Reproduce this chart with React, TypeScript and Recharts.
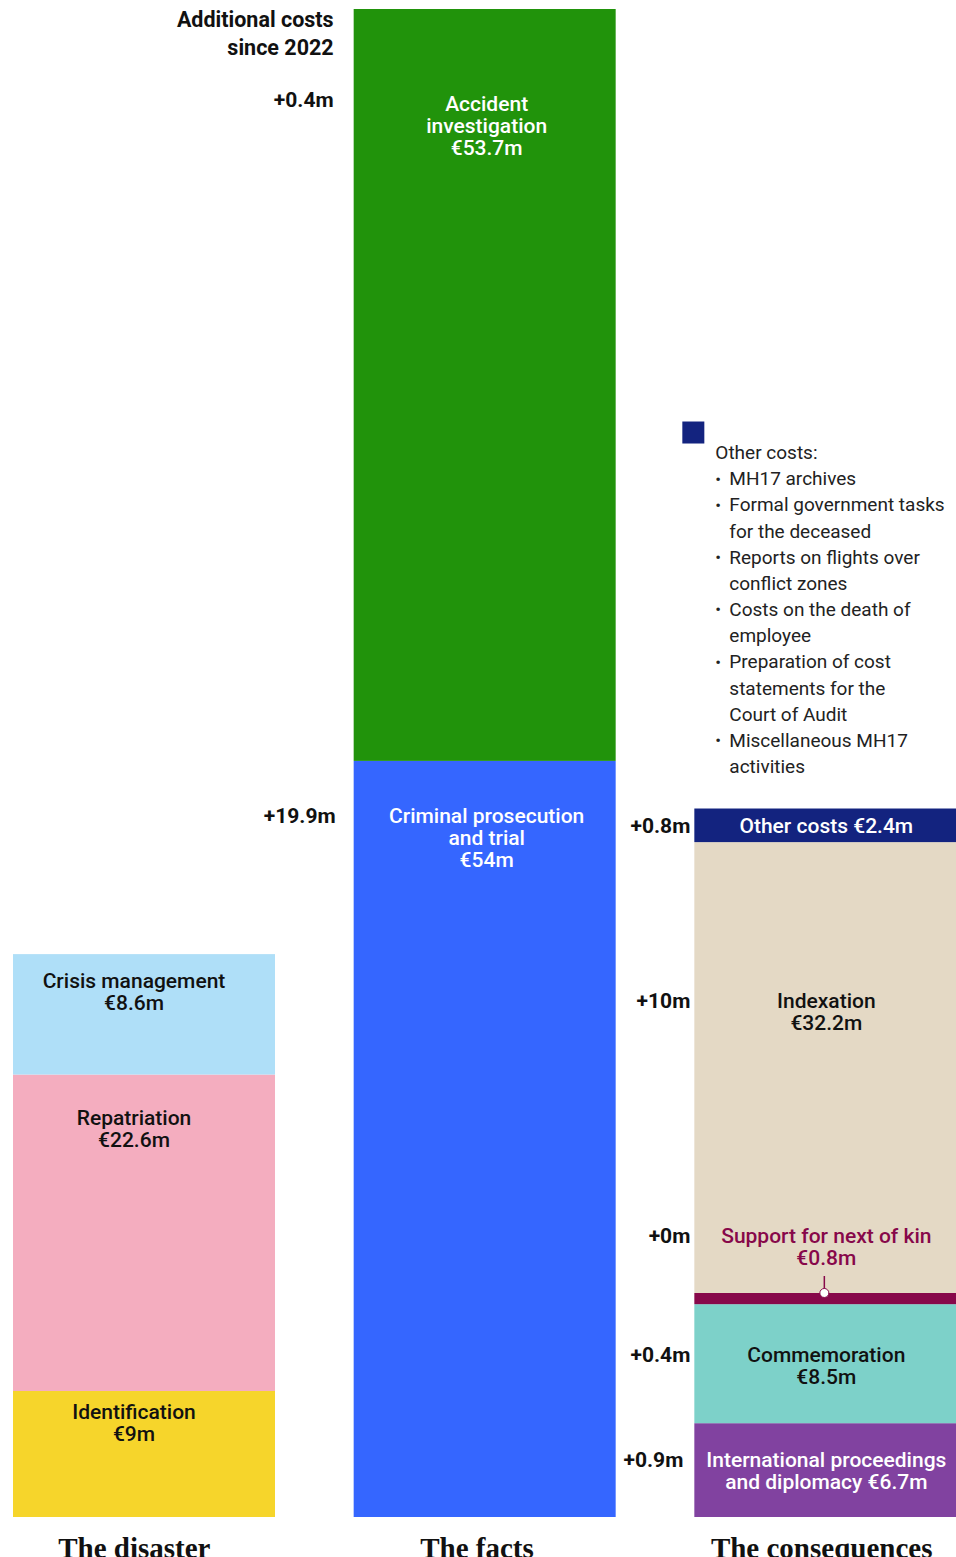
import React from 'react'
import { BarChart, Bar, XAxis, YAxis } from 'recharts'

const categories = ['The disaster', 'The facts', 'The consequences']

// each list is stacked from the bottom up, '{v}' is replaced by the amount
const disasterLabels = ['Identification\n{v}', 'Repatriation\n{v}', 'Crisis management\n{v}']
const disasterCosts = [9, 22.6, 8.6]
const disasterAdditional: (number | null)[] = [null, null, null]

const factsLabels = ['Criminal prosecution\nand trial\n{v}', 'Accident\ninvestigation\n{v}']
const factsCosts = [54, 53.7]
const factsAdditional: (number | null)[] = [19.9, 0.4]

const consequencesLabels = [
  'International proceedings\nand diplomacy {v}',
  'Commemoration\n{v}',
  'Support for next of kin\n{v}',
  'Indexation\n{v}',
  'Other costs {v}',
]
const consequencesCosts = [6.7, 8.5, 0.8, 32.2, 2.4]
const consequencesAdditional: (number | null)[] = [0.9, 0.4, 0, 10, 0.8]

const otherCostsTitle = 'Other costs:'
const otherCostsItems = [
  ['MH17 archives'],
  ['Formal government tasks', 'for the deceased'],
  ['Reports on flights over', 'conflict zones'],
  ['Costs on the death of', 'employee'],
  ['Preparation of cost', 'statements for the', 'Court of Audit'],
  ['Miscellaneous MH17', 'activities'],
]
const additionalTitle = ['Additional costs', 'since 2022']

const labelsByCategory = [disasterLabels, factsLabels, consequencesLabels]
const costsByCategory = [disasterCosts, factsCosts, consequencesCosts]
const additionalByCategory = [disasterAdditional, factsAdditional, consequencesAdditional]

// styles
const COLORS = [
  ['#f6d52b', '#f4adbf', '#afdff8'],
  ['#3566ff', '#21930b'],
  ['#8142a0', '#7dd1c9', '#87084a', '#e4d9c5', '#13237f'],
]
const TEXT_COLORS = [
  ['#111', '#111', '#111'],
  ['#fff', '#fff'],
  ['#fff', '#111', '#87084a', '#111', '#fff'],
]
// distance from segment top to first label line (negative = label above segment)
const LABEL_OFFSETS = [
  [21, 43, 27],
  [55, 95],
  [36, 50, -57, 159, 17],
]
const LABEL_DX = [-10, 2, 1]
const TICK_DX = [-10, -8, -4]
const EXTRA_GAP = [
  [0, 0, 0],
  [18, 20],
  [11, 4, 4, 4, 4],
]
const EXTRA_SHIFT = [
  [0, 0, 0],
  [0, -4],
  [0, 0, 0, 0, 0],
]

const FONT = 'Roboto, "Noto Sans", sans-serif'
const LINE = 22

const seriesKeys = ['s0', 's1', 's2', 's3', 's4']

const data = categories.map((name, c) => {
  const row: Record<string, any> = { name }
  seriesKeys.forEach((k, i) => {
    row[k] = costsByCategory[c][i] ?? 0
  })
  return row
})

const yMax = Math.max(...costsByCategory.map((arr) => arr.reduce((a, b) => a + b, 0)))

const fmt = (v: number) => `€${v}m`

function labelLines(c: number, i: number) {
  return labelsByCategory[c][i].replace('{v}', fmt(costsByCategory[c][i])).split('\n')
}

function SegmentText({ c, i, cx, top }: { c: number; i: number; cx: number; top: number }) {
  const lines = labelLines(c, i)
  return (
    <text
      fontFamily={FONT}
      fontSize={21}
      fontWeight={500}
      fill={TEXT_COLORS[c][i]}
      textAnchor="middle"
    >
      {lines.map((l, n) => (
        <tspan key={n} x={cx} y={top + n * LINE} dy="0.35em">
          {l}
        </tspan>
      ))}
    </text>
  )
}

function renderSegment(props: any, i: number) {
  const { x, y, width, height, index } = props
  const c = index as number
  const value = costsByCategory[c][i]
  if (value == null || value <= 0) return <g />
  const cx = x + width / 2
  const tx = cx + LABEL_DX[c]
  const offset = LABEL_OFFSETS[c][i]
  const extra = additionalByCategory[c][i]
  const below = i > 0 ? LABEL_OFFSETS[c][i - 1] : 0
  const bottom = y + height

  return (
    <g>
      <rect x={x} y={y} width={width} height={height} fill={COLORS[c][i]} />
      {offset >= 0 && <SegmentText c={c} i={i} cx={tx} top={y + offset} />}
      {extra != null && (
        <text
          x={x - EXTRA_GAP[c][i]}
          y={y + offset + EXTRA_SHIFT[c][i]}
          dy="0.35em"
          textAnchor="end"
          fontFamily={FONT}
          fontSize={21}
          fontWeight={700}
          fill="#111"
        >
          {`+${extra}m`}
        </text>
      )}
      {/* label of the thin segment below, drawn here so it sits on top */}
      {i > 0 && below < 0 && (
        <g>
          <SegmentText c={c} i={i - 1} cx={tx} top={bottom + below} />
          <line x1={cx - 1} x2={cx - 1} y1={bottom - 17} y2={bottom} stroke={COLORS[c][i - 1]} strokeWidth={1.5} />
          <circle cx={cx - 1} cy={bottom} r={4.5} fill="#fff" stroke={COLORS[c][i - 1]} strokeWidth={1} />
        </g>
      )}
      {c === 1 && i === factsCosts.length - 1 && (
        <text x={x - 20} fontFamily={FONT} fontSize={21.5} fontWeight={700} fill="#111" textAnchor="end">
          {additionalTitle.map((l, n) => (
            <tspan key={n} x={x - 20} y={y + 10 + n * 28} dy="0.35em">
              {l}
            </tspan>
          ))}
        </text>
      )}
      {c === 2 && i === consequencesCosts.length - 1 && (
        <g>
          <rect x={x - 12} y={y - 387} width={22} height={22} fill={COLORS[c][i]} />
          <text fontFamily={FONT} fontSize={19} fill="#222">
            <tspan x={x + 21} y={y - 356} dy="0.35em">
              {otherCostsTitle}
            </tspan>
            {(() => {
              let n = 1
              const out: React.ReactNode[] = []
              otherCostsItems.forEach((item, k) => {
                item.forEach((l, j) => {
                  const ly = y - 356 + n * 26.15
                  if (j === 0) {
                    out.push(
                      <tspan key={`b${k}`} x={x + 21} y={ly} dy="0.35em" fontSize={17}>
                        •
                      </tspan>
                    )
                  }
                  out.push(
                    <tspan key={`t${k}-${j}`} x={x + 35} y={ly} dy="0.35em">
                      {l}
                    </tspan>
                  )
                  n++
                })
              })
              return out
            })()}
          </text>
        </g>
      )}
    </g>
  )
}

const CategoryTick = ({ x, y, payload, index }: any) => (
  <text
    x={x + TICK_DX[index ?? 0]}
    y={y + 41}
    textAnchor="middle"
    fontFamily='"Liberation Serif", serif'
    fontWeight={700}
    fontSize={29}
    fill="#111"
  >
    {payload.value}
  </text>
)

export default function App() {
  return (
    <div style={{ width: 956, height: 1557, overflow: 'hidden', background: '#fff' }}>
      <style>{'body{margin:0}'}</style>
      <div style={{ marginLeft: -26 }}>
        <BarChart width={1022} height={1577} data={data} margin={{ top: 9, right: 0, bottom: 0, left: 0 }} barSize={262}>
          <XAxis
            dataKey="name"
            height={60}
            axisLine={false}
            tickLine={false}
            tickSize={0}
            tickMargin={0}
            interval={0}
            tick={<CategoryTick />}
          />
          <YAxis hide type="number" domain={[0, yMax]} allowDataOverflow />
          {seriesKeys.map((k, i) => (
            <Bar
              key={k}
              dataKey={k}
              stackId="a"
              isAnimationActive={false}
              shape={(p: any) => renderSegment(p, i)}
            />
          ))}
        </BarChart>
      </div>
    </div>
  )
}
